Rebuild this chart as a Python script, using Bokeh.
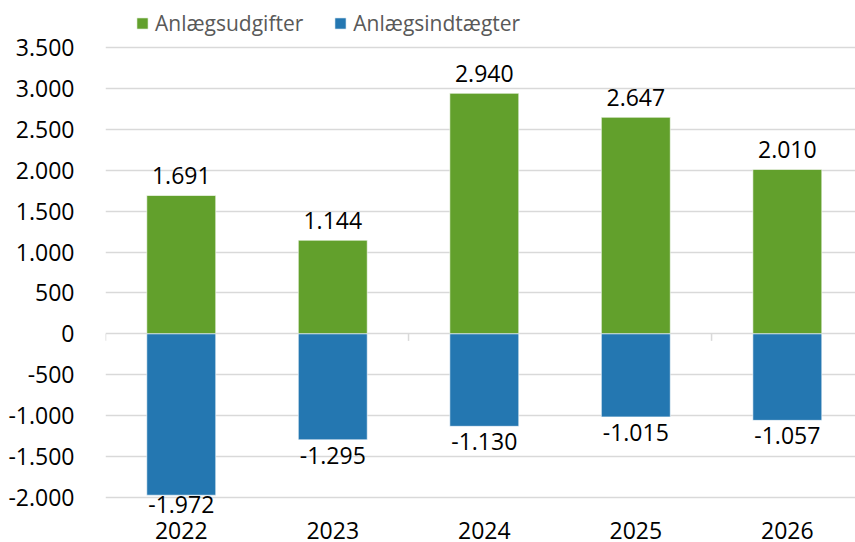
from bokeh.plotting import figure
from bokeh.models import Range1d, FixedTicker, Legend, LegendItem, Label
from bokeh.embed import file_html
from bokeh.resources import INLINE

# ---- data ----
years = ["2022", "2023", "2024", "2025", "2026"]
anlaegsudgifter = [1691, 1144, 2940, 2647, 2010]
anlaegsindtaegter = [-1972, -1295, -1130, -1015, -1057]
y_ticks = [-2000, -1500, -1000, -500, 0, 500, 1000, 1500, 2000, 2500, 3000, 3500]
series_names = ["Anlægsudgifter", "Anlægsindtægter"]

GREEN = "#62A02C"
BLUE = "#2477B1"
GRID = "#D9D9D9"
FONT = "Open Sans"


def dk(v):
    return f"{v:,}".replace(",", ".")


W, H = 855, 542
YMIN, YMAX = y_ticks[0], y_ticks[-1]
TOP_PAD, BOTTOM_PAD = 47, 45          # px between figure edge and the tick range
upp = (YMAX - YMIN) / (H - TOP_PAD - BOTTOM_PAD)  # data units per pixel

xs = list(range(len(years)))

p = figure(width=W, height=H, output_backend="svg", toolbar_location=None,
           x_range=Range1d(-0.5, 4.45),
           y_range=Range1d(YMIN - BOTTOM_PAD * upp, YMAX + TOP_PAD * upp),
           min_border_left=105, min_border_right=0, min_border_top=0, min_border_bottom=0,
           outline_line_color=None, background_fill_color="white", border_fill_color="white")

# grid
p.xgrid.grid_line_color = None
p.ygrid.ticker = FixedTicker(ticks=y_ticks)
p.ygrid.grid_line_color = GRID
p.ygrid.grid_line_width = 1.5

# bars
r1 = p.vbar(x=xs, top=anlaegsudgifter, bottom=0, width=0.455,
            fill_color=GREEN, line_color="white", line_width=0.6)
r2 = p.vbar(x=xs, top=0, bottom=anlaegsindtaegter, width=0.455,
            fill_color=BLUE, line_color="white", line_width=0.6)

# category boundary ticks on the zero line (every second category)
bounds = [i - 0.5 for i in range(0, len(years) + 1, 2)]
p.segment(x0=bounds, y0=[0] * len(bounds), x1=bounds, y1=[-7 * upp] * len(bounds),
          line_color=GRID, line_width=1.5)

# y axis
p.yaxis.ticker = FixedTicker(ticks=y_ticks)
p.yaxis.major_label_overrides = {t: dk(t) for t in y_ticks}
ax = p.yaxis[0]
ax.axis_line_color = None
ax.major_tick_line_color = None
ax.minor_tick_line_color = None
ax.major_label_text_font = FONT
ax.major_label_text_font_size = "23px"
ax.major_label_text_color = "#000000"
ax.major_label_standoff = 25

# x axis: category labels drawn below the bottom gridline
p.xaxis.visible = False
for x, yr in zip(xs, years):
    p.add_layout(Label(x=x, y=YMIN, text=yr, y_offset=-33,
                       text_align="center", text_baseline="alphabetic",
                       text_font=FONT, text_font_size="23px", text_color="#000000"))

# data labels
for x, v in zip(xs, anlaegsudgifter):
    p.add_layout(Label(x=x, y=v, text=dk(v), y_offset=20,
                       text_align="center", text_baseline="alphabetic",
                       text_font=FONT, text_font_size="23px", text_color="#000000"))
for x, v in zip(xs, anlaegsindtaegter):
    off = -min(15.5, (v - YMIN) / upp + 7)
    p.add_layout(Label(x=x, y=v, text=dk(v), y_offset=off,
                       text_align="center", text_baseline="alphabetic",
                       text_font=FONT, text_font_size="23px", text_color="#000000"))

# legend
legend = Legend(items=[LegendItem(label=series_names[0], renderers=[r1]),
                       LegendItem(label=series_names[1], renderers=[r2])],
                orientation="horizontal", location=(30, 505),
                glyph_width=14, glyph_height=14, label_standoff=6, spacing=30,
                padding=0, margin=0, border_line_color=None, background_fill_alpha=0,
                label_text_font=FONT, label_text_font_size="21px", label_text_color="#595959")
p.add_layout(legend)

open("out.html", "w").write(file_html(p, INLINE))
